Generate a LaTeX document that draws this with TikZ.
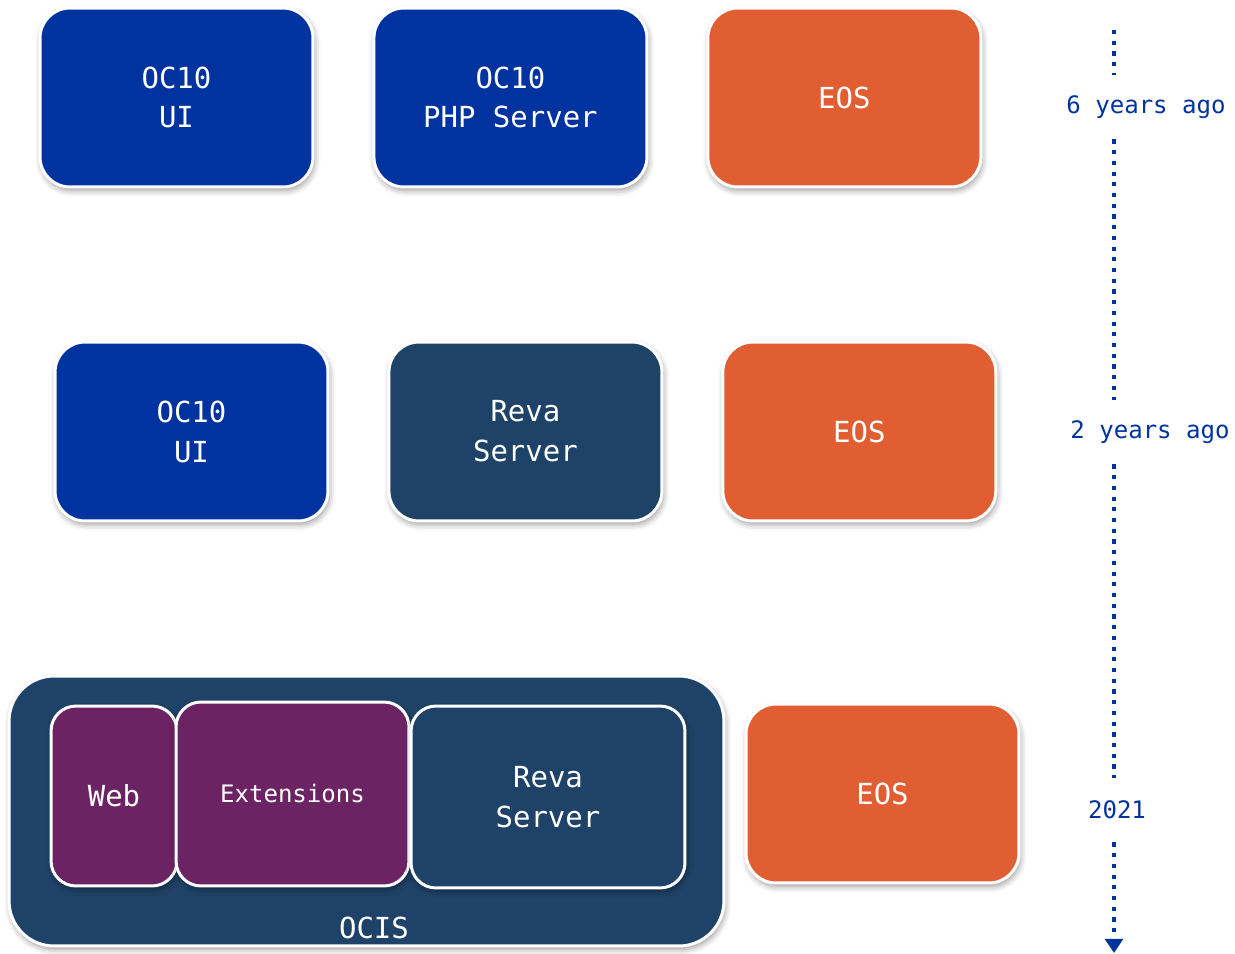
\documentclass[tikz,border=0pt]{standalone}
\usepackage{xcolor}
\usepackage{fontspec}
\usepackage{tikz}
\usetikzlibrary{positioning, shadows.blur, arrows.meta}
\newfontfamily\consfont{DejaVu Sans Mono}
\definecolor{ocblue}{RGB}{0,51,160}
\definecolor{revablue}{RGB}{31,67,104}
\definecolor{eosorange}{RGB}{224,94,50}
\definecolor{extpurple}{RGB}{108,35,99}
\tikzset{
  comp/.style={draw=white, line width=1.7pt, rounded corners=0.6cm,
    minimum width=5.46cm, minimum height=3.58cm, align=center,
    text=white, font=\consfont\fontsize{16.5}{22.7}\selectfont,
    blur shadow={shadow xshift=0.8pt, shadow yshift=-2pt,
      shadow blur radius=3.5pt, shadow opacity=40}},
  inner/.style={comp, rounded corners=0.5cm},
  when/.style={text=ocblue, font=\consfont\fontsize{13.7}{16}\selectfont,
    minimum height=1.28cm, inner sep=0pt},
  timeline/.style={ocblue, line width=2.6pt, dash pattern=on 2.4pt off 3.7pt}
}
\begin{document}
\begin{tikzpicture}[x=0.02cm, y=-0.02cm]
\useasboundingbox (0,0) rectangle (1235,954);

\node[comp, fill=ocblue] (ui1) at (176.5,97.5) {OC10\\UI};
\node[comp, fill=ocblue, right=1.16cm of ui1] (php) {OC10\\PHP Server};
\node[comp, fill=eosorange, right=1.16cm of php] (eos1) {EOS};

\node[comp, fill=ocblue] (ui2) at (191.5,431.5) {OC10\\UI};
\node[comp, fill=revablue, right=1.16cm of ui2] (reva2) {Reva\\Server};
\node[comp, fill=eosorange, right=1.16cm of reva2] (eos2) {EOS};

\node[comp, fill=revablue, rounded corners=0.9cm, minimum width=14.3cm,
  minimum height=5.4cm] (ocis) at (366.5,811) {};
\node[text=white, font=\consfont\fontsize{16.5}{22.7}\selectfont]
  (ocistxt) at ([xshift=0.15cm, yshift=0.4cm]ocis.south) {OCIS};
\node[inner, fill=extpurple, minimum width=2.52cm, minimum height=3.6cm]
  (web) at (114,796) {Web};
\node[inner, fill=extpurple, minimum width=4.66cm, minimum height=3.68cm,
  font=\consfont\fontsize{13.7}{18}\selectfont] (ext) at (292.5,794) {Extensions};
\node[inner, fill=revablue, minimum width=5.48cm, minimum height=3.64cm]
  (reva3) at (548,797) {Reva\\Server};
\node[comp, fill=eosorange] (eos3) at (882.5,793.5) {EOS};

\coordinate (top) at (1114,30);
\coordinate (bottom) at (1114,953);
\node[when] (t6) at (1146,107) {6 years ago};
\node[when] (t2) at (1150,432) {2 years ago};
\node[when] (t21) at (1117,810) {2021};

\draw[timeline] (top) -- (t6.north -| top);
\draw[timeline] (t6.south -| top) -- (t2.north -| top);
\draw[timeline] (t2.south -| top) -- (t21.north -| top);
\draw[timeline, -{Triangle[width=10pt, length=8pt]}] (t21.south -| top) -- (bottom);
\end{tikzpicture}
\end{document}
